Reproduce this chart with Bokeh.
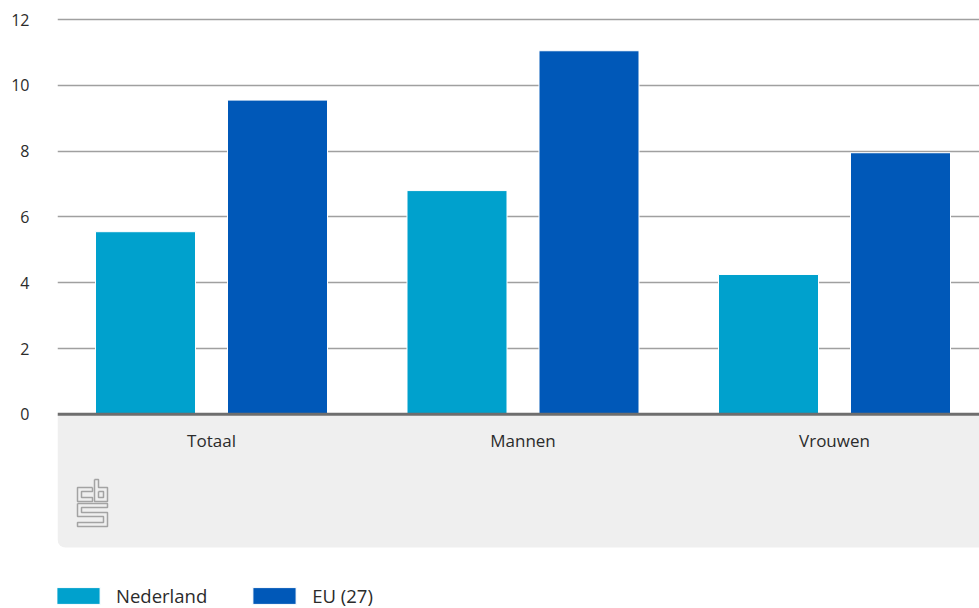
from bokeh.plotting import figure
from bokeh.models import (ColumnDataSource, Range1d, FixedTicker, Span, BoxAnnotation,
                          Legend, LegendItem)
from bokeh.core.properties import value
from bokeh.embed import file_html
from bokeh.resources import INLINE

categories = ["Totaal", "Mannen", "Vrouwen"]
nederland = [5.55, 6.8, 4.25]
eu27 = [9.55, 11.05, 7.95]
series_names = ["Nederland", "EU (27)"]
y_ticks = [0, 2, 4, 6, 8, 10, 12]

NL_COLOR = "#00a1cd"
EU_COLOR = "#0058b8"
FONT = "Open Sans"
TEXT_COLOR = "#2b2b2b"

# layout (page pixels; Bokeh's page template has no body margin)
FIG_W, FIG_H = 979, 608
FRAME_LEFT_PX = 57
GROUP0_PX = 211.0
GROUP_STEP_PX = 311.5
FRAME_W = FIG_W - FRAME_LEFT_PX
Y0_PX = 413.8
PX_PER_UNIT = 32.9
FRAME_TOP_PX = 6
FRAME_BOTTOM_PX = FIG_H

x_start = -(GROUP0_PX - FRAME_LEFT_PX) / GROUP_STEP_PX
x_end = x_start + FRAME_W / GROUP_STEP_PX
y_end = (Y0_PX - FRAME_TOP_PX) / PX_PER_UNIT
y_start = -(FRAME_BOTTOM_PX - Y0_PX) / PX_PER_UNIT

offset = 66 / GROUP_STEP_PX
bar_w = 100 / GROUP_STEP_PX

xs = list(range(len(categories)))
src = ColumnDataSource(dict(
    x=xs,
    x_nl=[x - offset for x in xs],
    x_eu=[x + offset for x in xs],
    nl=nederland,
    eu=eu27,
    cat=categories,
    label_y=[-(440.0 - Y0_PX) / PX_PER_UNIT] * len(xs),
))

p = figure(width=FIG_W, height=FIG_H, output_backend="svg", toolbar_location=None,
           x_range=Range1d(x_start, x_end), y_range=Range1d(y_start, y_end),
           x_axis_location=None, min_border_left=FRAME_LEFT_PX, min_border_right=0,
           min_border_top=FRAME_TOP_PX, min_border_bottom=0)
p.outline_line_color = None
p.background_fill_color = "white"
p.border_fill_color = "white"

# gray panel below the axis
panel = BoxAnnotation(left=x_start, right=x_end + 1, top=0,
                      bottom=-(547 - Y0_PX) / PX_PER_UNIT,
                      fill_color="#efefef", fill_alpha=1, line_alpha=0,
                      border_radius=dict(top_left=0, top_right=0, bottom_right=0, bottom_left=8),
                      level="underlay")
p.add_layout(panel)

# y axis & grid
p.yaxis.ticker = FixedTicker(ticks=y_ticks)
p.yaxis.axis_line_color = None
p.yaxis.major_tick_line_color = None
p.yaxis.minor_tick_line_color = None
p.yaxis.major_label_standoff = 22
p.yaxis.major_label_text_font = FONT
p.yaxis.major_label_text_font_size = "16px"
p.yaxis.major_label_text_color = TEXT_COLOR
p.ygrid.ticker = FixedTicker(ticks=[t for t in y_ticks if t > 0])
p.ygrid.grid_line_color = "#a0a0a0"
p.ygrid.grid_line_width = 1.5
p.xgrid.grid_line_color = None

r_nl = p.vbar(x="x_nl", top="nl", bottom=0, width=bar_w, source=src,
              fill_color=NL_COLOR, line_color="white", line_width=1)
r_eu = p.vbar(x="x_eu", top="eu", bottom=0, width=bar_w, source=src,
              fill_color=EU_COLOR, line_color="white", line_width=1)

p.add_layout(Span(location=0, dimension="width", line_color="#6e6e6e", line_width=3))

p.text(x="x", y="label_y", text="cat", source=src, text_align="center",
       text_baseline="middle", text_font=value(FONT), text_font_size="17px",
       text_color=TEXT_COLOR)

# CBS logo (decoration), pixel outline converted to data space
def to_data(pts):
    return ([x_start + (px - FRAME_LEFT_PX) / GROUP_STEP_PX for px, py in pts],
            [(Y0_PX - py) / PX_PER_UNIT for px, py in pts])

ox, oy = 77, 479
shapes = [
    [(15, 8), (0, 8), (0, 22), (15, 22), (15, 18), (4, 18), (4, 12), (15, 12), (15, 8)],
    [(17, 0), (21, 0), (21, 8), (30, 8), (30, 22), (17, 22), (17, 0)],
    [(21, 12), (26, 12), (26, 18), (21, 18), (21, 12)],
    [(0, 24), (30, 24), (30, 28), (4, 28), (4, 33), (30, 33), (30, 47), (0, 47),
     (0, 43), (26, 43), (26, 37), (0, 37), (0, 24)],
]
lx, ly = [], []
for s in shapes:
    dx, dy = to_data([(ox + a, oy + b) for a, b in s])
    lx.append(dx)
    ly.append(dy)
p.multi_line(lx, ly, line_color="#a3a3a3", line_width=1.5)

legend = Legend(items=[LegendItem(label=series_names[0], renderers=[r_nl]),
                       LegendItem(label=series_names[1], renderers=[r_eu])],
                orientation="horizontal", location=(-6, 0), margin=0, padding=0,
                spacing=40, glyph_width=54, glyph_height=21, label_height=21,
                label_standoff=11, label_text_font=FONT, label_text_font_size="18.5px",
                label_text_color=TEXT_COLOR, border_line_color=None,
                background_fill_alpha=0)
p.add_layout(legend)

open("out.html", "w").write(file_html(p, INLINE))
